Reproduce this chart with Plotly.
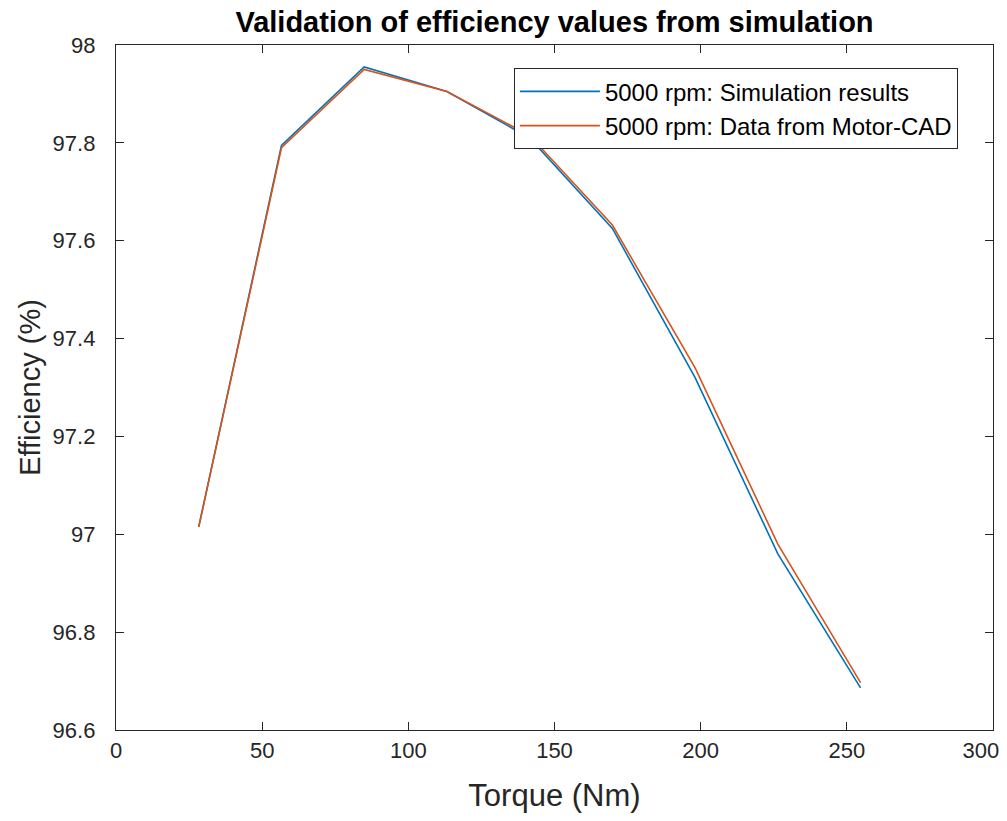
import plotly.graph_objects as go

torque = [28.3, 56.6, 84.9, 113.2, 141.5, 169.8, 198.1, 226.4, 254.7]
eff_sim = [97.015, 97.795, 97.955, 97.905, 97.81, 97.625, 97.32, 96.96, 96.686]
eff_mcad = [97.015, 97.79, 97.95, 97.905, 97.815, 97.632, 97.34, 96.98, 96.697]

x_ticks = [0, 50, 100, 150, 200, 250, 300]
x_labels = ["0", "50", "100", "150", "200", "250", "300\u00a0\u00a0\u00a0\u00a0"]
y_ticks = [96.6, 96.8, 97.0, 97.2, 97.4, 97.6, 97.8, 98.0]
y_labels = ["96.6", "96.8", "97", "97.2", "97.4", "97.6", "97.8", "98"]

FONT = "Liberation Sans, Arial"

fig = go.Figure()
fig.add_trace(go.Scatter(x=torque, y=eff_sim, mode="lines",
                         line=dict(color="#0072BD", width=1.6),
                         name="5000 rpm: Simulation results"))
fig.add_trace(go.Scatter(x=torque, y=eff_mcad, mode="lines",
                         line=dict(color="#D95319", width=1.6),
                         name="5000 rpm: Data from Motor-CAD"))

axis_common = dict(showline=True, linecolor="#262626", linewidth=1.3, mirror="ticks",
                   ticks="inside", ticklen=8, tickcolor="#262626", showgrid=False,
                   zeroline=False, ticklabeloverflow="allow", automargin=False,
                   tickfont=dict(family=FONT, size=22, color="#262626"))

fig.update_layout(
    width=991, height=805,
    margin=dict(l=108, r=6, t=37, b=83, autoexpand=False),
    paper_bgcolor="white", plot_bgcolor="white",
    title=dict(text="<b>Validation of efficiency values from simulation</b>",
               x=0.5, xref="paper", y=1 - 4 / 805, yref="container", yanchor="top",
               pad=dict(t=0, b=0),
               font=dict(family=FONT, size=29, color="black")),
    xaxis=dict(range=[0, 300], tickvals=x_ticks, ticktext=x_labels,
               title=dict(text="Torque (Nm)", font=dict(family=FONT, size=31, color="#262626"), standoff=25),
               **axis_common),
    yaxis=dict(range=[96.6, 98], tickvals=y_ticks, ticktext=y_labels, ticklabelstandoff=15,
               title=dict(text="Efficiency (%)", font=dict(family=FONT, size=29, color="#262626"), standoff=3),
               **axis_common),
    legend=dict(x=0.96, y=0.966, xanchor="right", yanchor="top",
                bgcolor="white", bordercolor="#262626", borderwidth=1,
                font=dict(family=FONT, size=24, color="black"),
                tracegroupgap=0, itemwidth=80),
    showlegend=True,
)

fig.write_html("out.html")
